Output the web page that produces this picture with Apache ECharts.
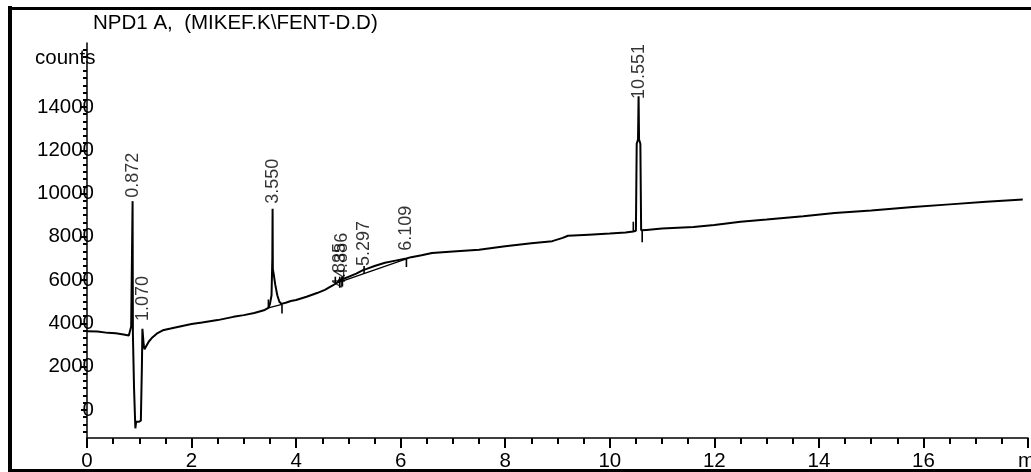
<!DOCTYPE html>
<html><head><meta charset="utf-8">
<script src="https://cdn.jsdelivr.net/npm/echarts@6/dist/echarts.min.js"></script>
<style>html,body{margin:0;padding:0;background:#fff}#c{width:1031px;height:472px}</style>
</head><body><div id="c"></div>
<script>
// ---- data ----
const times = [0.00,0.20,0.40,0.55,0.70,0.80,0.83,0.845,0.86,0.872,0.878,0.90,0.925,0.94,0.99,1.03,1.05,1.060,1.075,1.085,1.10,1.13,1.18,1.25,1.35,1.45,1.6,1.8,2.0,2.2,2.5,2.8,3.0,3.2,3.4,3.47,3.50,3.53,3.545,3.550,3.555,3.57,3.60,3.64,3.68,3.72,3.80,3.9,4.0,4.2,4.4,4.55,4.70,4.80,4.835,4.85,4.886,4.90,5.0,5.15,5.297,5.35,5.5,5.7,5.9,6.109,6.2,6.4,6.6,7.0,7.5,8.0,8.5,8.9,9.1,9.2,9.6,10.0,10.3,10.45,10.50,10.515,10.54,10.551,10.56,10.585,10.60,10.7,11.0,11.6,12.0,12.5,13.0,13.7,14.3,15.0,15.8,16.5,17.2,17.9];
const counts = [3640,3620,3560,3540,3480,3440,3500,3850,3900,9650,3500,1000,-850,-550,-550,-500,2000,3750,3700,3000,2800,2850,3150,3350,3550,3680,3760,3870,3970,4040,4150,4300,4380,4480,4620,4720,4900,5300,7000,9300,6500,6300,5800,5300,5000,4900,4950,5030,5080,5230,5400,5550,5750,5900,6050,5950,6150,6050,6150,6300,6480,6520,6650,6800,6900,7000,7060,7150,7250,7320,7400,7560,7700,7800,7950,8050,8100,8150,8200,8250,8280,12300,12500,14500,12500,12300,8300,8320,8380,8450,8550,8700,8800,8950,9100,9220,9380,9500,9620,9730];

const peakTimes  = [0.872, 1.070, 3.550, 4.835, 4.886, 5.297, 6.109, 10.551];
const peakLabels = ['0.872','1.070','3.550','4.835','4.886','5.297','6.109','10.551'];
const peakApex   = [9570, 3880, 9300, 5400, 5870, 6420, 7120, 14140];

const baseStartT = [3.47, 4.80];
const baseStartC = [4720, 5880];
const baseEndT   = [3.73, 6.11];
const baseEndC   = [4880, 6980];

const markTimes = [3.47, 3.73, 4.75, 4.835, 4.886, 5.30, 6.11, 10.45, 10.62];
const markFrom  = [4720, 4880, 5850, 5650, 5700, 6300, 7000, 8250, 8280];
const markTo    = [5100, 4450, 6150, 6150, 6150, 6650, 6600, 8700, 7750];

const yMajor = [0, 2000, 4000, 6000, 8000, 10000, 12000, 14000];
const xTickLabels = ['0','2','4','6','8','10','12','14','16'];

// ---- build ----
const trace = times.map((t, i) => [t, counts[i]]);
const baseData = [];
baseStartT.forEach((t, i) => { baseData.push([t, baseStartC[i]], [baseEndT[i], baseEndC[i]], [baseEndT[i], '-']); });
const markData = [];
markTimes.forEach((t, i) => { markData.push([t, markFrom[i]], [t, markTo[i]], [t, '-']); });
const yMinor = [];
for (let k = -3; k <= 50; k++) { const v = Math.round(k * 2000 / 6); if (k % 6 !== 0 && v > -1300 && v < 16960) yMinor.push(v); }

const FONT = 'Liberation Sans, Arial, sans-serif';
const chart = echarts.init(document.getElementById('c'), null, {renderer: 'canvas'});
chart.setOption({
  animation: false,
  backgroundColor: '#fff',
  grid: {left: 87, right: -7, top: 43, bottom: 34},
  xAxis: {
    type: 'value', min: 0, max: 18, interval: 2,
    axisLine: {onZero: false, lineStyle: {color: '#000', width: 1.5}},
    axisTick: {length: 10, lineStyle: {color: '#000', width: 2}},
    minorTick: {show: true, splitNumber: 4, length: 6, lineStyle: {color: '#000', width: 2}},
    splitLine: {show: false},
    axisLabel: {color: '#000', fontSize: 20.5, fontFamily: FONT, margin: 13,
      formatter: v => { const i = v / 2; return (Number.isInteger(i) && i < xTickLabels.length) ? xTickLabels[i] : ''; }}
  },
  yAxis: [{
    type: 'value', min: -1300, max: 16960,
    axisLine: {show: true, lineStyle: {color: '#000', width: 1.5}},
    axisTick: {show: true, length: 6, customValues: yMajor, lineStyle: {color: '#000', width: 2}},
    splitLine: {show: false},
    axisLabel: {color: '#000', fontSize: 20.5, fontFamily: FONT, margin: -7, customValues: yMajor,
      formatter: v => String(v)}
  }, {
    type: 'value', min: -1300, max: 16960, position: 'left',
    axisLine: {show: false},
    axisTick: {show: true, length: 4, customValues: yMinor, lineStyle: {color: '#000', width: 2}},
    axisLabel: {show: false},
    splitLine: {show: false}
  }],
  series: [{
    type: 'line', data: trace, showSymbol: false, symbol: 'none',
    lineStyle: {color: '#000', width: 2}, z: 3
  }, {
    type: 'line', data: baseData, showSymbol: false, symbol: 'none', connectNulls: false,
    lineStyle: {color: '#000', width: 1.3}, z: 2
  }, {
    type: 'line', data: markData, showSymbol: false, symbol: 'none', connectNulls: false,
    lineStyle: {color: '#000', width: 1.6}, z: 2
  }, {
    type: 'scatter', symbolSize: 0,
    data: peakTimes.map((t, i) => ({value: [t, peakApex[i]], name: peakLabels[i]})),
    label: {show: true, formatter: p => p.name, rotate: 90, position: 'top', distance: 5,
      align: 'left', verticalAlign: 'middle', color: '#000', fontSize: 18, fontFamily: FONT}
  }],
  graphic: [
    {type: 'line', shape: {x1: 10, y1: 6, x2: 10, y2: 472}, style: {stroke: '#000', lineWidth: 4}},
    {type: 'line', shape: {x1: 8, y1: 8.5, x2: 1031, y2: 8.5}, style: {stroke: '#000', lineWidth: 3}},
    {type: 'line', shape: {x1: 8, y1: 470.5, x2: 1031, y2: 470.5}, style: {stroke: '#000', lineWidth: 3}, z: 100},
    {type: 'text', x: 93, y: 13, style: {text: 'NPD1 A,  (MIKEF.K\\FENT-D.D)', fill: '#000', font: '20.5px ' + FONT, textVerticalAlign: 'top'}},
    {type: 'text', x: 35, y: 48, style: {text: 'counts', fill: '#000', font: '20.5px ' + FONT, textVerticalAlign: 'top'}},
    {type: 'text', x: 1018, y: 451, style: {text: 'min', fill: '#000', font: '20.5px ' + FONT, textVerticalAlign: 'top'}}
  ]
});
</script></body></html>
